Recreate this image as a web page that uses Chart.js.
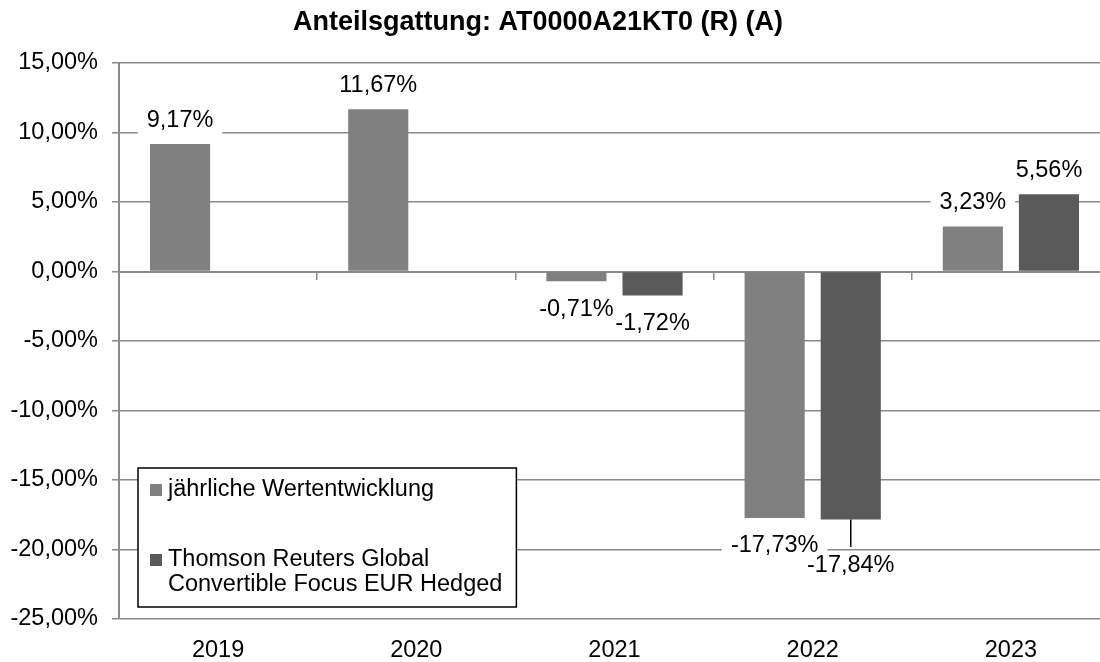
<!DOCTYPE html>
<html lang="de">
<head>
    <meta charset="UTF-8">
    <title>Anteilsgattung: AT0000A21KT0 (R) (A)</title>
    <script src="https://cdn.jsdelivr.net/npm/chart.js"></script>
    <style>
        html, body {
            margin: 0;
            padding: 0;
            background: #fff;
            overflow: hidden;
        }
        .chart-container {
            width: 1110px;
            height: 662px;
            position: relative;
        }
    </style>
</head>
<body>
    <div class="chart-container">
        <canvas id="perfChart"></canvas>
    </div>

    <script>
        const chartTitle = 'Anteilsgattung: AT0000A21KT0 (R) (A)';
        const years = ['2019', '2020', '2021', '2022', '2023'];
        const fundName = ['jährliche Wertentwicklung'];
        const fundValues = [9.17, 11.67, -0.71, -17.73, 3.23];
        const benchName = ['Thomson Reuters Global', 'Convertible Focus EUR Hedged'];
        const benchValues = [null, null, -1.72, -17.84, 5.56];
        const yMin = -25, yMax = 15, yStep = 5;

        const FONT_FAMILY = '"Liberation Sans", Arial, sans-serif';
        const FONT_SIZE = 23.5;
        const FONT = FONT_SIZE + 'px ' + FONT_FAMILY;
        const GRID = '#8a8a8a';

        const fmt = v => v.toFixed(2).replace('.', ',') + '%';

        // title drawn by hand, it sits a bit left of the canvas centre
        const titlePlugin = {
            id: 'titlePlugin',
            afterDraw(chart) {
                const ctx = chart.ctx;
                ctx.save();
                ctx.font = 'bold 27px ' + FONT_FAMILY;
                ctx.fillStyle = '#000';
                ctx.textAlign = 'center';
                ctx.textBaseline = 'middle';
                ctx.fillText(chartTitle, 538, 23);
                ctx.restore();
            }
        };

        // value labels with white boxes, pushed down + leader line when they collide
        const barLabels = {
            id: 'barLabels',
            afterDatasetsDraw(chart) {
                const ctx = chart.ctx;
                ctx.save();
                ctx.font = FONT;
                ctx.textAlign = 'center';
                ctx.textBaseline = 'middle';
                const items = [];
                chart.data.datasets.forEach((ds, di) => {
                    const meta = chart.getDatasetMeta(di);
                    meta.data.forEach((bar, i) => {
                        const v = ds.data[i];
                        if (v === null || v === undefined) return;
                        const text = fmt(v);
                        const w = ctx.measureText(text).width;
                        let cy = v >= 0 ? bar.y - 24 : bar.y + 28;
                        let leader = false;
                        items.forEach(p => {
                            if (Math.abs(p.x - bar.x) < (p.w + w) / 2 && Math.abs(p.y - cy) < 20) {
                                cy = v >= 0 ? p.y - 20 : p.y + 20;
                                leader = true;
                            }
                        });
                        items.push({ x: bar.x, y: cy, w, text, leader, from: bar.y, neg: v < 0 });
                    });
                });
                ctx.fillStyle = '#fff';
                items.forEach(it => ctx.fillRect(it.x - it.w / 2 - 9, it.y - 14, it.w + 18, 28));
                ctx.strokeStyle = '#000';
                ctx.lineWidth = 1.5;
                items.filter(it => it.leader).forEach(it => {
                    ctx.beginPath();
                    ctx.moveTo(it.x, it.from);
                    ctx.lineTo(it.x, it.neg ? it.y - 19 : it.y + 19);
                    ctx.stroke();
                });
                ctx.fillStyle = '#000';
                items.forEach(it => ctx.fillText(it.text, it.x, it.y));
                ctx.restore();
            }
        };

        const boxLegend = {
            id: 'boxLegend',
            afterDraw(chart) {
                const ctx = chart.ctx;
                const area = chart.chartArea;
                const x0 = area.left + 19;
                const y0 = area.bottom - 151;
                const entries = [
                    { lines: fundName, color: chart.data.datasets[0].backgroundColor, y: y0 + 22 },
                    { lines: benchName, color: chart.data.datasets[1].backgroundColor, y: y0 + 92 }
                ];
                ctx.save();
                ctx.font = FONT;
                let maxW = 0;
                entries.forEach(e => e.lines.forEach(l => { maxW = Math.max(maxW, ctx.measureText(l).width); }));
                const w = 30 + maxW + 14;
                const h = 139;
                ctx.fillStyle = '#fff';
                ctx.fillRect(x0, y0, w, h);
                ctx.strokeStyle = '#000';
                ctx.lineWidth = 1.5;
                ctx.strokeRect(x0, y0, w, h);
                ctx.textAlign = 'left';
                ctx.textBaseline = 'middle';
                entries.forEach(e => {
                    ctx.fillStyle = e.color;
                    ctx.fillRect(x0 + 12, e.y - 6, 12, 12);
                    ctx.fillStyle = '#000';
                    e.lines.forEach((l, k) => ctx.fillText(l, x0 + 30, e.y + k * 25));
                });
                ctx.restore();
            }
        };

        const ctx = document.getElementById('perfChart').getContext('2d');
        new Chart(ctx, {
            type: 'bar',
            data: {
                labels: years,
                datasets: [
                    {
                        label: fundName.join(' '),
                        data: fundValues,
                        backgroundColor: '#808080',
                        categoryPercentage: 0.768,
                        barPercentage: 0.79
                    },
                    {
                        label: benchName.join(' '),
                        data: benchValues,
                        backgroundColor: '#5a5a5a',
                        categoryPercentage: 0.768,
                        barPercentage: 0.79
                    }
                ]
            },
            options: {
                responsive: true,
                maintainAspectRatio: false,
                animation: false,
                layout: { padding: { top: 63, left: 0, right: 0, bottom: 0 } },
                plugins: {
                    legend: { display: false },
                    tooltip: { enabled: false },
                    title: { display: false }
                },
                scales: {
                    x: {
                        position: { y: 0 },
                        offset: true,
                        grid: {
                            offset: true,
                            drawOnChartArea: false,
                            drawTicks: true,
                            tickLength: 7,
                            color: GRID,
                            lineWidth: 1.5
                        },
                        border: { display: true, color: GRID, width: 2 },
                        ticks: { display: false }
                    },
                    x2: {
                        type: 'category',
                        position: 'bottom',
                        offset: true,
                        grid: { display: false, drawTicks: false },
                        border: { display: false },
                        ticks: {
                            padding: 17,
                            color: '#000',
                            font: { family: FONT_FAMILY, size: FONT_SIZE }
                        },
                        afterFit(scale) { scale.height = 43; }
                    },
                    y: {
                        min: yMin,
                        max: yMax,
                        ticks: {
                            stepSize: yStep,
                            padding: 14,
                            color: '#000',
                            font: { family: FONT_FAMILY, size: FONT_SIZE },
                            callback: v => fmt(v)
                        },
                        grid: {
                            color: GRID,
                            lineWidth: 1.5,
                            drawTicks: true,
                            tickLength: 7
                        },
                        border: { display: true, color: GRID, width: 2 },
                        afterFit(scale) { scale.width = 119; }
                    }
                }
            },
            plugins: [titlePlugin, barLabels, boxLegend]
        });
    </script>
</body>
</html>
